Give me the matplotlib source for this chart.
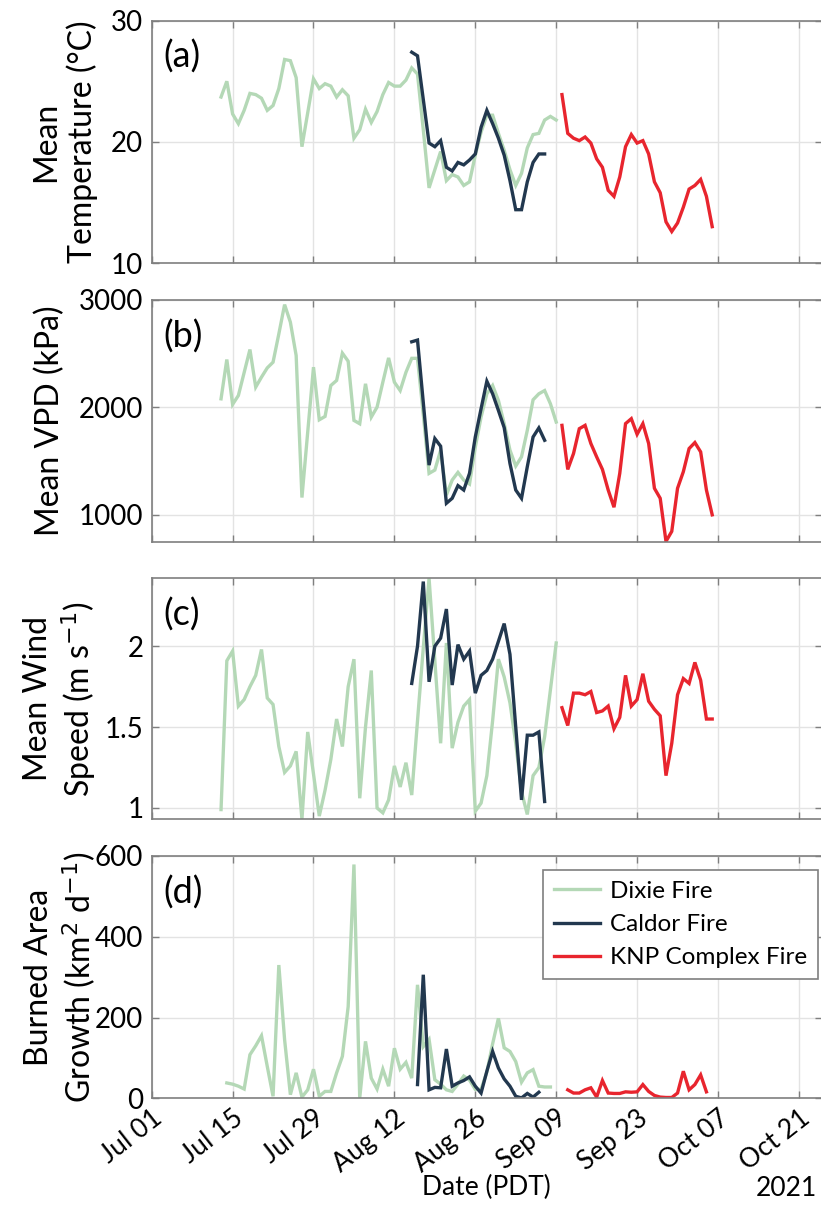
import matplotlib
matplotlib.use("Agg")
import matplotlib.pyplot as plt
import matplotlib.dates as mdates
import numpy as np
import pandas as pd

plt.rcParams['font.family'] = ['Lato', 'DejaVu Sans']

# ---------------- data ----------------
dixie_start = "2021-07-13"
caldor_start = "2021-08-15"
knp_start = "2021-09-10"
dixie_ba_start = "2021-07-14"
caldor_ba_start = "2021-08-16"
knp_ba_start = "2021-09-11"

dixie_temp = [23.7, 25.0, 22.3, 21.5, 22.6, 24.0, 23.9, 23.6, 22.6, 23.0, 24.4, 26.8, 26.7, 25.3,
              19.6, 22.4, 25.2, 24.4, 24.8, 24.6, 23.7, 24.3, 23.8, 20.3, 21.0, 22.7, 21.6, 22.5,
              23.9, 24.9, 24.6, 24.6, 25.1, 26.1, 25.6, 21.0, 16.2, 17.7, 19.2, 16.8, 17.3, 17.1,
              16.4, 16.7, 18.9, 20.8, 22.2, 22.2, 20.7, 19.3, 17.7, 16.4, 17.4, 19.5, 20.6, 20.7,
              21.8, 22.1, 21.8]
caldor_temp = [27.4, 27.1, 23.5, 19.9, 19.6, 20.1, 17.9, 17.6, 18.3, 18.1, 18.5, 19.0, 21.2, 22.6,
               21.5, 20.3, 18.9, 16.8, 14.4, 14.4, 16.7, 18.3, 19.0, 19.0]
knp_temp = [23.9, 20.7, 20.3, 20.1, 20.4, 19.9, 18.6, 17.9, 16.0, 15.5, 17.1, 19.6, 20.6, 19.9,
            20.1, 19.0, 16.7, 15.8, 13.4, 12.6, 13.3, 14.6, 16.1, 16.4, 16.9, 15.5, 13.0]

dixie_vpd = [2080, 2446, 2028, 2111, 2325, 2539, 2189, 2282, 2368, 2421, 2684, 2957, 2793, 2483,
             1161, 1771, 2375, 1885, 1916, 2204, 2251, 2505, 2430, 1879, 1848, 2220, 1910, 2003,
             2235, 2461, 2235, 2157, 2327, 2457, 2457, 1935, 1386, 1417, 1600, 1185, 1324, 1395,
             1324, 1287, 1630, 1910, 2127, 2204, 2065, 1849, 1602, 1454, 1540, 1787, 2071, 2127,
             2157, 2034, 1864]
caldor_vpd = [2611, 2627, 2046, 1463, 1710, 1639, 1108, 1154, 1272, 1231, 1386, 1725, 1988, 2244,
              2127, 1972, 1812, 1478, 1231, 1154, 1448, 1725, 1809, 1694]
knp_vpd = [1833, 1423, 1571, 1802, 1833, 1664, 1540, 1423, 1231, 1071, 1386, 1849, 1895, 1750,
           1849, 1664, 1247, 1154, 753, 846, 1247, 1401, 1617, 1673, 1586, 1231, 1000]

dixie_wind = [0.99, 1.91, 1.97, 1.63, 1.67, 1.75, 1.82, 1.98, 1.68, 1.64, 1.38, 1.22, 1.26, 1.35,
              0.93, 1.47, 1.21, 0.95, 1.11, 1.30, 1.55, 1.38, 1.75, 1.92, 1.06, 1.50, 1.85, 1.00,
              0.97, 1.05, 1.26, 1.13, 1.28, 1.08, 1.54, 1.99, 2.42, 1.91, 1.40, 2.02, 1.37, 1.53,
              1.63, 1.67, 0.98, 1.03, 1.20, 1.54, 1.92, 1.81, 1.65, 1.40, 1.10, 0.96, 1.20, 1.25,
              1.44, 1.73, 2.02]
caldor_wind = [1.77, 2.00, 2.40, 1.78, 2.00, 2.05, 2.23, 1.76, 2.01, 1.92, 1.97, 1.71, 1.82, 1.85,
               1.92, 2.03, 2.14, 1.95, 1.50, 1.05, 1.45, 1.45, 1.47, 1.04]
knp_wind = [1.62, 1.51, 1.71, 1.71, 1.70, 1.72, 1.59, 1.60, 1.63, 1.49, 1.56, 1.82, 1.63, 1.67,
            1.83, 1.66, 1.61, 1.57, 1.20, 1.40, 1.70, 1.80, 1.77, 1.90, 1.79, 1.55, 1.55]

dixie_ba = [38, 35, 30, 23, 108, 130, 155, 79, 5, 330, 145, 9, 63, 3, 21, 72, 5, 17, 17, 63, 104,
            227, 579, 1, 141, 50, 23, 72, 30, 124, 72, 89, 50, 281, 128, 146, 46, 35, 21, 17, 35,
            55, 45, 22, 22, 65, 135, 198, 125, 116, 91, 40, 63, 71, 30, 28, 28]
caldor_ba = [34, 306, 21, 27, 26, 122, 30, 38, 44, 53, 30, 13, 67, 116, 75, 48, 30, 5, 1, 12, 3, 15]
knp_ba = [21, 13, 13, 21, 26, 3, 44, 13, 12, 12, 16, 15, 16, 34, 17, 7, 3, 2, 2, 13, 67, 21, 34,
          58, 16]

fire_names = ["Dixie Fire", "Caldor Fire", "KNP Complex Fire"]
fire_colors = ["#b4d8b6", "#22384f", "#e8252e"]

panel_labels = ["(a)", "(b)", "(c)", "(d)"]
ylabels = ["Mean\nTemperature (\u00b0C)", "Mean VPD (kPa)",
           "Mean Wind\nSpeed (m s$^{-1}$)", "Burned Area\nGrowth (km$^2$ d$^{-1}$)"]
ylims = [(10, 30), (750, 3000), (0.93, 2.42), (0, 600)]
yticks = [[10, 20, 30], [1000, 2000, 3000], [1, 1.5, 2], [0, 200, 400, 600]]
ytick_labels = [["10", "20", "30"], ["1000", "2000", "3000"], ["1", "1.5", "2"],
                ["0", "200", "400", "600"]]
xtick_dates = pd.date_range("2021-07-01", "2021-10-21", freq="14D")

# ---------------- figure ----------------
fig = plt.figure(figsize=(8.21, 12.21), dpi=100)
W, H = 821, 1221
left_px, right_px = 151.7, 822
tops = [20.7, 300, 578.3, 856]
bots = [263, 541.7, 819.3, 1098.3]
ylabel_right_px = [97.5, None, 97.5, 97.5]

def series(start, vals):
    return pd.date_range(start, periods=len(vals), freq="D"), vals

panels = [
    [(dixie_start, dixie_temp), (caldor_start, caldor_temp), (knp_start, knp_temp)],
    [(dixie_start, dixie_vpd), (caldor_start, caldor_vpd), (knp_start, knp_vpd)],
    [(dixie_start, dixie_wind), (caldor_start, caldor_wind), (knp_start, knp_wind)],
    [(dixie_ba_start, dixie_ba), (caldor_ba_start, caldor_ba), (knp_ba_start, knp_ba)],
]

xmin = pd.Timestamp("2021-07-01")
xmax = xmin + pd.Timedelta(days=116)
spine_col = "#7f7f7f"
axes = []
for i in range(4):
    ax = fig.add_axes([left_px / W, 1 - bots[i] / H, (right_px - left_px) / W, (bots[i] - tops[i]) / H])
    axes.append(ax)
    for (start, vals), name, col in zip(panels[i], fire_names, fire_colors):
        x, y = series(start, vals)
        ax.plot(x, y, color=col, lw=2.4, label=name, solid_joinstyle='miter')
    ax.set_xlim(xmin, xmax)
    ax.set_ylim(*ylims[i])
    ax.set_yticks(yticks[i])
    ax.set_yticklabels(ytick_labels[i])
    ax.set_xticks(xtick_dates)
    ax.grid(True, color="#e3e3e3", lw=1.0)
    ax.set_axisbelow(True)
    for s in ax.spines.values():
        s.set_color(spine_col)
        s.set_linewidth(1.2)
    ax.tick_params(direction="in", length=5, width=1, color=spine_col, labelsize=20,
                   top=True, right=True, pad=6)
    ax.tick_params(axis="x", labelsize=19, pad=5)
    ax.set_ylabel(ylabels[i], fontsize=23, labelpad=10, linespacing=1.2)
    if ylabel_right_px[i] is not None:
        ax.yaxis.set_label_coords((ylabel_right_px[i] - left_px) / (right_px - left_px), 0.5)
    ax.text(0.017, 0.85, panel_labels[i], transform=ax.transAxes, fontsize=26,
            ha="left", va="center")
    if i < 3:
        ax.set_xticklabels([])
    else:
        ax.xaxis.set_major_formatter(mdates.DateFormatter("%b %d"))
        for lab in ax.get_xticklabels():
            lab.set_rotation(38)
            lab.set_ha("right")
            lab.set_rotation_mode("anchor")
        ax.set_xlabel("Date (PDT)", fontsize=19)
        ax.xaxis.set_label_coords(0.5, (bots[i] - 1175) / (bots[i] - tops[i]))
        leg = ax.legend(loc="upper right", bbox_to_anchor=(818 / W, 1 - 870 / H),
                        bbox_transform=fig.transFigure, borderaxespad=0, fontsize=17.5,
                        fancybox=False, framealpha=1, edgecolor=spine_col,
                        handlelength=1.9, handletextpad=0.4, borderpad=0.45,
                        labelspacing=0.5)
        leg.get_frame().set_linewidth(1.2)

fig.text(786 / W, 1 - 1188 / H, "2021", fontsize=19, ha="center", va="center")

fig.savefig("out.png", dpi=100)
